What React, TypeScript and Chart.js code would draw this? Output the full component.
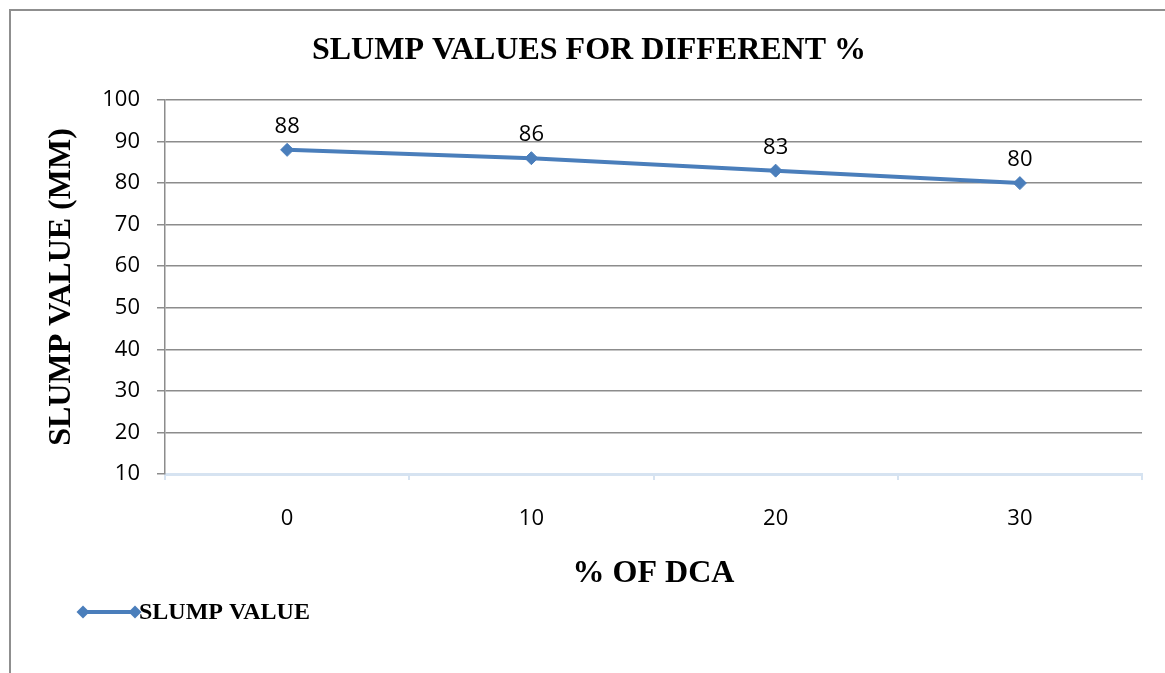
import React, { useEffect, useRef } from "react";
import { Chart, registerables } from "chart.js";

Chart.register(...registerables);

const categories = ["0", "10", "20", "30"];
const slumpValues = [88, 86, 83, 80];
const seriesLabel = "SLUMP VALUE";
const chartTitle = "SLUMP VALUES FOR DIFFERENT %";
const xTitle = "% OF DCA";
const yTitle = "SLUMP VALUE (MM)";
const yMin = 10;
const yMax = 100;
const yStep = 10;

const BLUE = "#4a7ebb";
const GRID = "#8c8c8c";
const AXIS_BLUE = "#d6e3f1";
const SERIF = "'Liberation Serif', 'Times New Roman', serif";
const SANS = "'Open Sans', 'Noto Sans', sans-serif";

function diamond(ctx: CanvasRenderingContext2D, x: number, y: number, r: number) {
  ctx.beginPath();
  ctx.moveTo(x, y - r);
  ctx.lineTo(x + r, y);
  ctx.lineTo(x, y + r);
  ctx.lineTo(x - r, y);
  ctx.closePath();
  ctx.fill();
}

const dataLabelPlugin = {
  id: "dataLabels",
  afterDatasetsDraw(chart: any) {
    const ctx = chart.ctx;
    ctx.save();
    ctx.font = `22px ${SANS}`;
    ctx.fillStyle = "#000";
    ctx.textAlign = "center";
    ctx.textBaseline = "middle";
    chart.data.datasets.forEach((ds: any, i: number) => {
      const meta = chart.getDatasetMeta(i);
      meta.data.forEach((pt: any, j: number) => {
        ctx.fillText(String(ds.data[j]), pt.x, pt.y - 23);
      });
    });
    ctx.restore();
  },
};

const legendPlugin = {
  id: "excelLegend",
  afterDraw(chart: any) {
    const ctx = chart.ctx;
    const ds = chart.data.datasets[0];
    const y = 612;
    ctx.save();
    ctx.strokeStyle = BLUE;
    ctx.fillStyle = BLUE;
    ctx.lineWidth = 4;
    ctx.beginPath();
    ctx.moveTo(83, y);
    ctx.lineTo(135, y);
    ctx.stroke();
    diamond(ctx, 83, y, 6.5);
    diamond(ctx, 135, y, 6.5);
    ctx.fillStyle = "#000";
    ctx.font = `bold 24px ${SERIF}`;
    ctx.textAlign = "left";
    ctx.textBaseline = "middle";
    ctx.fillText(ds.label, 139, y + 1);
    ctx.restore();
  },
};

export default function App() {
  const canvasRef = useRef<HTMLCanvasElement | null>(null);

  useEffect(() => {
    if (!canvasRef.current) return;
    const chart = new Chart(canvasRef.current, {
      type: "line",
      data: {
        labels: categories,
        datasets: [
          {
            label: seriesLabel,
            data: slumpValues,
            borderColor: BLUE,
            backgroundColor: BLUE,
            borderWidth: 4,
            pointStyle: "rectRot",
            pointRadius: 6.5,
            pointBorderWidth: 1,
            pointBackgroundColor: BLUE,
            pointBorderColor: BLUE,
            tension: 0,
          },
        ],
      },
      options: {
        responsive: false,
        animation: false,
        events: [],
        layout: { padding: { left: 36, right: 23, top: 0, bottom: 80 } },
        plugins: {
          legend: { display: false },
          tooltip: { enabled: false },
          title: {
            display: true,
            text: chartTitle,
            color: "#000",
            font: { family: SERIF, size: 32, weight: "bold" },
            padding: { top: 32, bottom: 29.6 },
          },
        },
        scales: {
          x: {
            type: "category",
            offset: true,
            grid: {
              display: true,
              offset: true,
              drawOnChartArea: false,
              drawTicks: true,
              tickLength: 6,
              color: AXIS_BLUE,
              lineWidth: 2,
            },
            border: { display: true, color: AXIS_BLUE, width: 3 },
            ticks: {
              color: "#000",
              font: { family: SANS, size: 22 },
              padding: 26,
              maxRotation: 0,
            },
            title: {
              display: true,
              text: xTitle,
              color: "#000",
              font: { family: SERIF, size: 32, weight: "bold" },
              padding: { top: 0, bottom: 0 },
            },
            afterFit(scale: any) {
              scale.height = 119;
            },
          },
          y: {
            min: yMin,
            max: yMax,
            ticks: {
              stepSize: yStep,
              color: "#000",
              font: { family: SANS, size: 22 },
              padding: 17,
            },
            grid: {
              color: (c: any) => (c.tick && c.tick.value === yMin ? "rgba(0,0,0,0)" : GRID),
              tickColor: GRID,
              lineWidth: 1.5,
              tickLength: 8,
            },
            border: { display: true, color: GRID, width: 1.5 },
            title: {
              display: true,
              text: yTitle,
              color: "#000",
              font: { family: SERIF, size: 32, weight: "bold" },
              padding: { top: 7, bottom: 0 },
            },
            afterFit(scale: any) {
              scale.width = 129;
            },
          },
        },
      },
      plugins: [dataLabelPlugin, legendPlugin],
    } as any);
    return () => chart.destroy();
  }, []);

  return (
    <div style={{ position: "absolute", left: 0, top: 0, width: 1165, height: 673, overflow: "hidden", background: "#fff" }}>
      <div
        style={{
          position: "absolute",
          left: 9,
          top: 9,
          width: 1200,
          height: 700,
          borderLeft: "2px solid #8f8f8f",
          borderTop: "2px solid #8f8f8f",
        }}
      />
      <canvas ref={canvasRef} width={1165} height={673} style={{ position: "absolute", left: 0, top: 0 }} />
    </div>
  );
}
